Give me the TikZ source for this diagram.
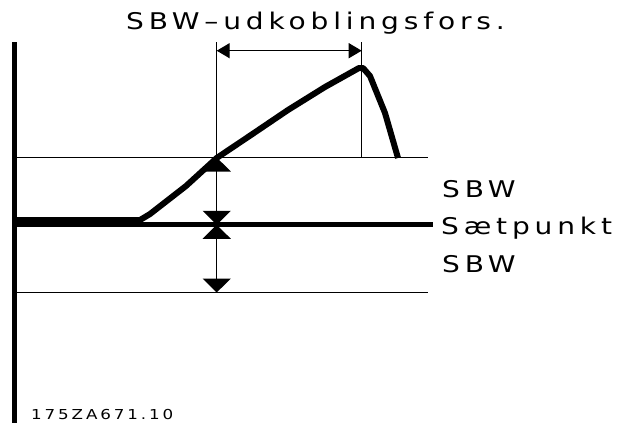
\documentclass[tikz,border=0pt]{standalone}
\usepackage{fontspec}
\newfontfamily\plotfont[FakeStretch=1.22,LetterSpace=21]{DejaVu Sans}
\usetikzlibrary{arrows.meta,positioning}
\tikzset{
  thinln/.style={line width=1.4pt,line cap=butt},
  setln/.style={line width=5pt},
  curveln/.style={line width=6pt,line join=round},
  dimarr/.style={thinln,{Triangle[length=13pt,width=15pt]}-{Triangle[length=13pt,width=15pt]}},
  bandarr/.style={thinln,{Triangle[length=14pt,width=28pt]}-{Triangle[length=14pt,width=28pt]}},
  lbl/.style={anchor=base west,inner sep=0pt,font=\plotfont\fontsize{23}{28}\selectfont},
  codelbl/.style={anchor=base west,inner sep=0pt,font=\plotfont\fontsize{13.7}{17}\selectfont},
}
\begin{document}
\begin{tikzpicture}[x=1pt,y=-1pt]
  \useasboundingbox (0,0) rectangle (623,426);

  % --- axis and levels ---
  \coordinate (axtop) at (14.7,42);
  \coordinate (axbot) at (14.7,423);
  \coordinate (hiW) at (14.7,157.5);  \coordinate (hiE) at (428,157.5);
  \coordinate (spW) at (14.7,224.8);  \coordinate (spE) at (433,224.8);
  \coordinate (loW) at (14.7,292.5);  \coordinate (loE) at (428,292.5);
  \draw[line width=5.3pt] (axtop) -- (axbot);
  \draw[thinln] (hiW) -- (hiE);
  \draw[setln] (spW) -- (spE);
  \draw[thinln] (loW) -- (loE);

  % --- dimension lines ---
  \coordinate (extA) at (216.7,42);   \coordinate (extAb) at (216.7,157.5);
  \coordinate (extB) at (361.7,42);   \coordinate (extBb) at (361.7,157.5);
  \coordinate (dimA) at (216.7,50.7); \coordinate (dimB) at (361.7,50.7);
  \coordinate (bandHi) at (216.7,157.5);
  \coordinate (bandSp) at (216.7,224.8);
  \coordinate (bandLo) at (216.7,292.5);
  \draw[thinln] (extA) -- (extAb);
  \draw[thinln] (extB) -- (extBb);
  \draw[dimarr] (dimA) -- (dimB);
  \draw[bandarr] (bandHi) -- (bandSp);
  \draw[bandarr] (bandSp) -- (bandLo);

  % --- signal ---
  \draw[curveln] (14.7,220) -- (140,220) -- (150,214) -- (186,186) -- (216.7,158)
    -- (251,135) -- (288,110) -- (325,87) -- (359,68) -- (363,68) -- (370,76)
    -- (385,113) -- (398,158);

  % --- texts ---
  \node[lbl] (title) at (126,29.3) {SBW–udkoblingsfors.};
  \node[lbl] (sbwhi) at (442,197) {SBW};
  \node[lbl] (setp) at (441,234) {Sætpunkt};
  \node[lbl] (sbwlo) at (442,272) {SBW};
  \node[codelbl] (code) at (31,419.3) {175ZA671.10};
\end{tikzpicture}
\end{document}
